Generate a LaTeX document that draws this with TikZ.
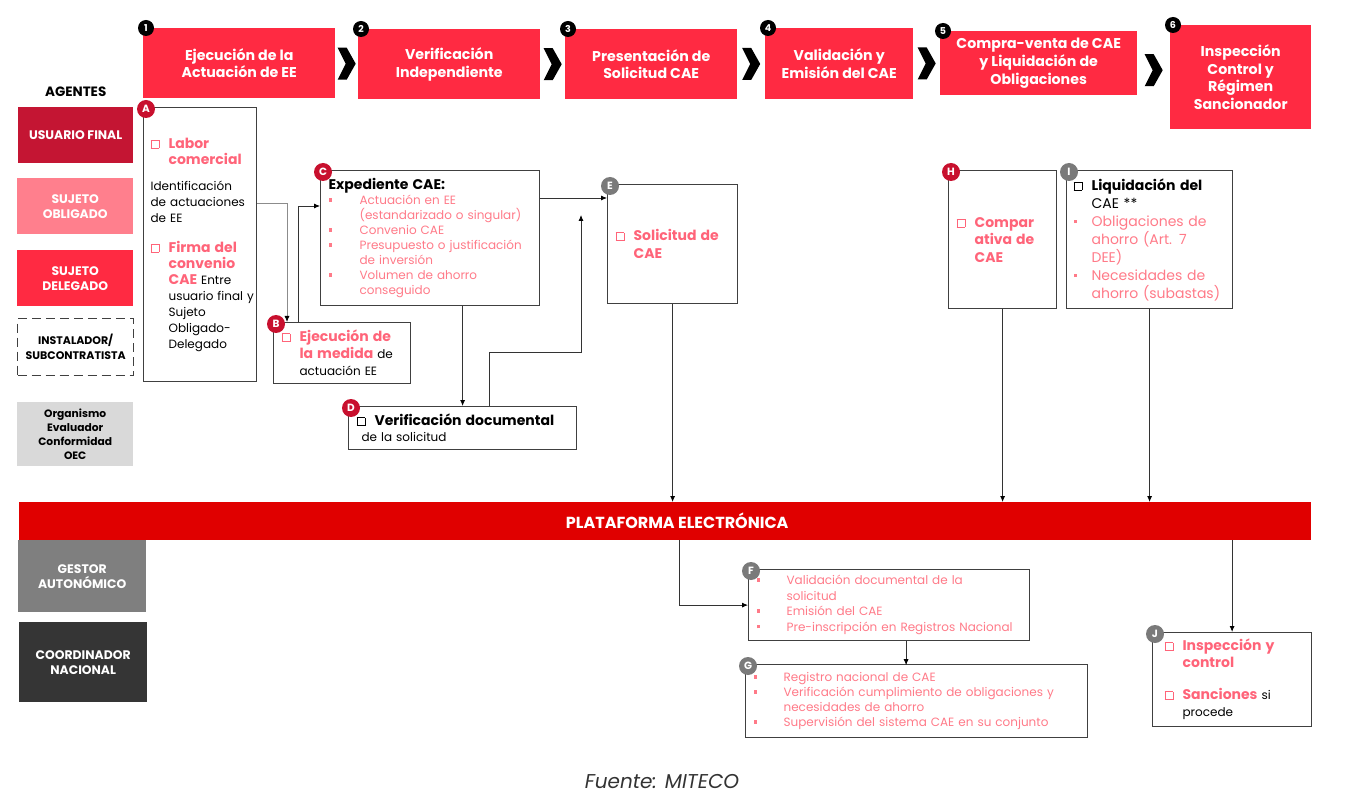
\documentclass[tikz,border=0pt]{standalone}
\usepackage{fontspec}
\setmainfont{Poppins}
\usetikzlibrary{arrows.meta,calc,positioning}

\definecolor{stepred}{HTML}{FF2A42}
\definecolor{usured}{HTML}{C41533}
\definecolor{oblpink}{HTML}{FF7F8D}
\definecolor{platred}{HTML}{E00000}
\definecolor{txtpink}{HTML}{FF6479}
\definecolor{bulpink}{HTML}{FF7A88}
\definecolor{boxgray}{HTML}{404040}
\definecolor{linegray}{HTML}{8C8C8C}
\definecolor{oecgray}{HTML}{D9D9D9}
\definecolor{gestgray}{HTML}{7F7F7F}
\definecolor{coorgray}{HTML}{353535}
\definecolor{badgered}{HTML}{C8102E}
\definecolor{badgegray}{HTML}{7A7A7A}

\newcommand{\chkbox}{\raisebox{0.5pt}{\setlength{\fboxsep}{0pt}\setlength{\fboxrule}{0.9pt}\fbox{\rule{0pt}{7pt}\rule{7pt}{0pt}}}}
\newcommand{\cbx}{\makebox[18pt][l]{\chkbox}}
\newcommand{\indnt}{\hspace*{18pt}}
\newcommand{\sqb}[1]{\makebox[#1][l]{\rule[3pt]{3.5pt}{3.5pt}}}
\newcommand{\hlt}[1]{\textcolor{txtpink}{\bfseries\fontsize{14}{16}\selectfont #1}}

\begin{document}
\begin{tikzpicture}[x=1pt,y=-1pt,
    stepbox/.style={fill=stepred, text=white, anchor=north west, align=center, inner sep=0,
      font=\bfseries\fontsize{14.2}{17.6}\selectfont},
    agent/.style={text=white, anchor=north west, align=center, inner sep=0,
      font=\bfseries\fontsize{12.4}{15}\selectfont},
    box/.style={draw=boxgray, line width=1.2pt, anchor=north west, align=left,
      inner xsep=8, inner ysep=0, font=\fontsize{12}{16}\selectfont},
    numbadge/.style={circle, fill=black, text=white, inner sep=0, minimum size=16,
      font=\bfseries\fontsize{9.5}{9.5}\selectfont},
    badge/.style={circle, text=white, inner sep=0, minimum size=18,
      font=\bfseries\fontsize{10.5}{10.5}\selectfont},
    flow/.style={draw=black!80, line width=0.8pt, -{Latex[length=6pt,width=5pt,color=black]}},
    grayflow/.style={flow, draw=linegray}]

    \useasboundingbox (0,0) rectangle (1366,802);

    % pasos del proceso
    \node[stepbox, minimum width=192, minimum height=70] (s1) at (143,28) {Ejecución de la\\Actuación de EE};
    \node[stepbox, minimum width=182, minimum height=70] (s2) at (358,29) {Verificación\\Independiente};
    \node[stepbox, minimum width=172, minimum height=70] (s3) at (565,29) {Presentación de\\Solicitud CAE};
    \node[stepbox, minimum width=148, minimum height=71] (s4) at (765,28) {Validación y\\Emisión del CAE};
    \node[stepbox, minimum width=197, minimum height=64] (s5) at (940,31) {Compra-venta de CAE\\y Liquidación de\\Obligaciones};
    \node[stepbox, minimum width=141, minimum height=104] (s6) at (1170,25) {Inspección\\Control y\\Régimen\\Sancionador};

    \foreach \a/\b in {s1/s2,s2/s3,s3/s4,s4/s5,s5/s6}
      \fill ($(\a.east)!0.5!(\b.west)$) ++(-9,-16) -- ++(9,0) -- ++(9,16) -- ++(-9,16) -- ++(-9,0) -- ++(8,-16) -- cycle;
    \foreach \s/\n in {s1/1,s2/2,s3/3,s4/4,s5/5,s6/6}
      \node[numbadge] at ([shift={(3,0)}]\s.north west) {\n};

    % agentes
    \node[agent, fill=usured, minimum width=115, minimum height=56] (U) at (18,107) {USUARIO FINAL};
    \node[agent, fill=oblpink, minimum width=116, minimum height=56] (SO) at (17,178) {SUJETO\\OBLIGADO};
    \node[agent, fill=stepred, minimum width=116, minimum height=56] (SD) at (17,250) {SUJETO\\DELEGADO};
    \node[agent, draw=boxgray, line width=1.3pt, dash pattern=on 9pt off 5pt, text=black,
      minimum width=116, minimum height=57, font=\bfseries\fontsize{11}{15}\selectfont] (IN) at (17,318) {INSTALADOR/\\SUBCONTRATISTA};
    \node[agent, fill=oecgray, text=black, minimum width=116, minimum height=64,
      font=\bfseries\fontsize{10.7}{14}\selectfont] (OEC) at (17,402) {Organismo\\Evaluador\\Conformidad\\OEC};
    \node[font=\bfseries\fontsize{13.5}{14}\selectfont, above=7pt of U] (ag) {AGENTES};

    \node[fill=platred, text=white, anchor=north west, inner sep=0, minimum width=1292, minimum height=38,
      font=\bfseries\fontsize{16}{16}\selectfont] (P) at (19,502) {\hspace*{24pt}PLATAFORMA ELECTRÓNICA};
    \node[agent, fill=gestgray, minimum width=128, minimum height=72] (GA) at (18,540) {GESTOR\\AUTONÓMICO};
    \node[agent, fill=coorgray, minimum width=128, minimum height=80] (CN) at (19,622) {COORDINADOR\\NACIONAL};

    % cajas
    \node[box, minimum width=113, minimum height=274, text width=99, inner xsep=7] (A) at (143,107) {%
      \hlt{\cbx Labor}\\
      \hlt{\indnt comercial}\\[10pt]
      Identificación\\
      de actuaciones\\
      de EE\\[14pt]
      \hlt{\cbx Firma del}\\
      \hlt{\indnt convenio}\\
      \indnt\hlt{CAE} Entre\\
      \indnt\mbox{usuario final y}\\
      \indnt Sujeto\\
      \indnt Obligado-\\
      \indnt Delegado};
    \node[box, minimum width=137, minimum height=61, text width=121,
      font=\fontsize{12}{17}\selectfont] (B) at (273,322) {%
      \hlt{\cbx Ejecución de}\\
      \hlt{\indnt la medida} de\\
      \indnt actuación EE};
    \node[box, minimum width=219, minimum height=135, text width=203,
      font=\fontsize{12}{15}\selectfont] (C) at (320,170) {%
      {\bfseries\fontsize{14}{15}\selectfont Expediente CAE:}\\
      \color{bulpink}\sqb{31pt}Actuación en EE\\
      \hspace*{31pt}(estandarizado o singular)\\
      \sqb{31pt}Convenio CAE\\
      \sqb{31pt}Presupuesto o justificación\\
      \hspace*{31pt}de inversión\\
      \sqb{31pt}Volumen de ahorro\\
      \hspace*{31pt}conseguido};
    \node[box, minimum width=228, minimum height=43, text width=212] (D) at (348,406) {%
      {\bfseries\fontsize{14}{16}\selectfont\cbx Verificación documental}\\
      \hspace*{5pt}de la solicitud};
    \node[box, minimum width=130, minimum height=119, text width=114,
      font=\fontsize{12}{18}\selectfont] (E) at (607,184) {%
      \hlt{\cbx Solicitud de}\\
      \hlt{\indnt CAE}};
    \node[box, minimum width=108, minimum height=138, text width=92,
      font=\fontsize{12}{17.5}\selectfont] (H) at (948,170) {%
      \hlt{\cbx Compar}\\
      \hlt{\indnt ativa de}\\
      \hlt{\indnt CAE}};
    \node[box, minimum width=166, minimum height=138, text width=152, inner xsep=7,
      font=\fontsize{14}{18}\selectfont] (I) at (1066,170) {%
      {\bfseries\cbx Liquidación del}\\
      \indnt CAE **\\
      \color{bulpink}\sqb{18pt}Obligaciones de\\
      \indnt ahorro (Art. 7\\
      \indnt DEE)\\
      \sqb{18pt}Necesidades de\\
      \indnt ahorro (subastas)};
    \node[box, minimum width=281, minimum height=71, text width=265,
      font=\fontsize{12}{15.5}\selectfont] (F) at (748,569) {%
      \color{bulpink}\sqb{30pt}Validación documental de la\\
      \hspace*{30pt}solicitud\\
      \sqb{30pt}Emisión del CAE\\
      \sqb{30pt}Pre-inscripción en Registros Nacional};
    \node[box, minimum width=342, minimum height=73, text width=326,
      font=\fontsize{12}{15}\selectfont] (G) at (745,664) {%
      \color{bulpink}\sqb{30pt}Registro nacional de CAE\\
      \sqb{30pt}Verificación cumplimiento de obligaciones y\\
      \hspace*{30pt}necesidades de ahorro\\
      \sqb{30pt}Supervisión del sistema CAE en su conjunto};
    \node[box, minimum width=155, minimum height=94, text width=135, inner xsep=12,
      font=\fontsize{12}{17}\selectfont] (J) at (1152,632) {%
      \hlt{\cbx Inspección y}\\
      \hlt{\indnt control}\\[15pt]
      \hlt{\cbx Sanciones} si\\
      \indnt procede};

    \foreach \b/\c in {A/badgered,B/badgered,C/badgered,D/badgered,E/badgegray,
                       F/badgegray,G/badgegray,H/badgered,I/badgegray,J/badgegray}
      \node[badge, fill=\c] at ([shift={(3,2)}]\b.north west) {\b};

    % conectores
    \draw[grayflow] ([yshift=-96]A.north east) -| ([xshift=14]B.north west);
    \draw[flow] ([xshift=25]B.north west) |- ([yshift=-36]C.north west);
    \coordinate (ce) at ([yshift=-28]C.north east);
    \draw[flow] (ce) -- (ce -| E.west);
    \draw[flow] (C.south -| D.north) -- (D.north);
    \coordinate (dtip) at (581,215);
    \draw[flow] ([xshift=27]D.north) -- ++(0,-54) -| (dtip);
    \draw[flow] (E.south) -- (E.south |- P.north);
    \draw[flow] (H.south) -- (H.south |- P.north);
    \draw[flow] (I.south) -- (I.south |- P.north);
    \draw[flow] ([xshift=14]P.south) |- (F.west);
    \draw[flow] ([xshift=17]F.south) -- ++(0,24);
    \draw[flow] (P.south -| J.north) -- (J.north);

    \node[font=\itshape\fontsize{20}{20}\selectfont, text=black!80] (src) at (662,782) {Fuente: MITECO};
\end{tikzpicture}
\end{document}
